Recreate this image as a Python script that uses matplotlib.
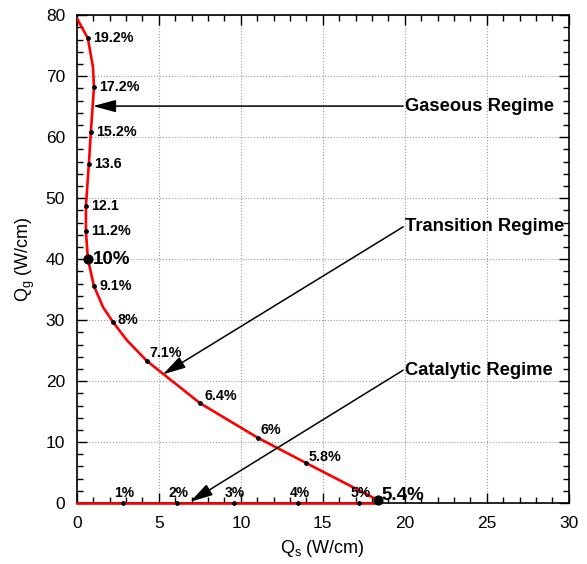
import matplotlib.pyplot as plt
from matplotlib.ticker import MultipleLocator

plt.rcParams['font.family'] = ['Liberation Sans', 'DejaVu Sans']
plt.rcParams['mathtext.default'] = 'regular'

# red curve (Qs, Qg)
curve_qs = [0.0, 0.67, 0.98, 1.04, 0.85, 0.73, 0.55, 0.55, 0.67, 1.04, 1.6, 2.2, 3.05, 4.27, 7.5, 11.04, 13.96, 18.35]
curve_qg = [79.5, 76.2, 71.5, 68.2, 60.8, 55.6, 48.7, 44.6, 40.0, 35.6, 32.1, 29.7, 26.7, 23.3, 16.4, 10.7, 6.6, 0.5]

# catalytic branch along the axis
base_qs = [0.0, 18.35]
base_qg = [0.0, 0.0]

# labelled points on the curve
pt_qs = [0.67, 1.04, 0.85, 0.73, 0.55, 0.55, 1.04, 2.2, 4.27, 7.5, 11.04, 13.96]
pt_qg = [76.2, 68.2, 60.8, 55.6, 48.7, 44.6, 35.6, 29.7, 23.3, 16.4, 10.7, 6.6]
pt_labels = ['19.2%', '17.2%', '15.2%', '13.6', '12.1', '11.2%', '9.1%', '8%', '7.1%', '6.4%', '6%', '5.8%']

# labelled points on the Qs axis
ax_qs = [2.8, 6.1, 9.57, 13.5, 17.2]
ax_labels = ['1%', '2%', '3%', '4%', '5%']

# big markers
big_qs = [0.67, 18.35]
big_qg = [40.0, 0.5]
big_labels = ['10%', '5.4%']

# regimes: text anchor and arrow tip
reg_names = ['Gaseous Regime', 'Transition Regime', 'Catalytic Regime']
reg_text_qs = [20.0, 20.0, 20.0]
reg_text_qg = [65.1, 45.3, 21.8]
reg_tip_qs = [0.98, 5.24, 6.9]
reg_tip_qg = [65.1, 21.1, 0.2]

fig = plt.figure(figsize=(5.87, 5.64), dpi=100)
ax = fig.add_axes([0.131, 0.108, 0.838, 0.865])

ax.plot(curve_qs, curve_qg, color='red', lw=1.9, zorder=3)
ax.plot(base_qs, base_qg, color='red', lw=1.9, zorder=3, clip_on=False)

ax.scatter(pt_qs, pt_qg, s=6, color='black', zorder=4)
ax.scatter(ax_qs, [0] * len(ax_qs), s=6, color='black', zorder=4, clip_on=False)
ax.scatter(big_qs, big_qg, s=40, color='black', zorder=4, clip_on=False)

# label offsets in points (dx, dy)
pt_off = [(3.5, 0), (3.5, 0), (3.5, 0), (3.5, 0), (3.5, 0), (3.5, 0), (4, 0), (3.5, 1.5),
          (2, 6), (3, 5), (2, 6), (2, 4)]
for x, y, lab, (dx, dy) in zip(pt_qs, pt_qg, pt_labels, pt_off):
    ax.annotate(lab, (x, y), xytext=(dx, dy), textcoords='offset points',
                ha='left', va='center', fontsize=10.3, fontweight='bold')

for x, lab in zip(ax_qs, ax_labels):
    ax.annotate(lab, (x, 0), xytext=(1, 2.5), textcoords='offset points',
                ha='center', va='bottom', fontsize=10, fontweight='bold')

ax.annotate(big_labels[0], (big_qs[0], big_qg[0]), xytext=(3.5, 0), textcoords='offset points',
            ha='left', va='center', fontsize=13.5, fontweight='bold')
ax.annotate(big_labels[1], (big_qs[1], big_qg[1]), xytext=(2.5, 3.5), textcoords='offset points',
            ha='left', va='center', fontsize=13.5, fontweight='bold')

# regime arrows
arrow = dict(arrowstyle='-|>,head_length=1.0,head_width=0.27', color='black', lw=1.1,
             shrinkA=0, shrinkB=0, mutation_scale=14)
for name, tx, ty, hx, hy in zip(reg_names, reg_text_qs, reg_text_qg, reg_tip_qs, reg_tip_qg):
    ax.annotate('', xy=(hx, hy), xytext=(tx - 0.1, ty), arrowprops=arrow)
    ax.text(tx, ty, name, ha='left', va='center', fontsize=13.2, fontweight='bold')

ax.set_xlim(0, 30)
ax.set_ylim(0, 80)
ax.xaxis.set_major_locator(MultipleLocator(5))
ax.xaxis.set_minor_locator(MultipleLocator(1))
ax.yaxis.set_major_locator(MultipleLocator(10))
ax.yaxis.set_minor_locator(MultipleLocator(2))
ax.tick_params(which='both', direction='in', top=True, right=True, labelsize=12.5, width=1)
ax.tick_params(which='major', length=7)
ax.tick_params(which='minor', length=4)
ax.tick_params(axis='x', which='major', pad=9.5)
ax.tick_params(axis='y', which='major', pad=8.5)
for s in ax.spines.values():
    s.set_linewidth(1.2)
ax.grid(True, which='major', linestyle=':', color='#999999', lw=0.8)

ax.set_xlabel('Q$_s$ (W/cm)', fontsize=13, labelpad=5)
ax.set_ylabel('Q$_g$ (W/cm)', fontsize=13, labelpad=6)

fig.savefig('out.png', dpi=100)
